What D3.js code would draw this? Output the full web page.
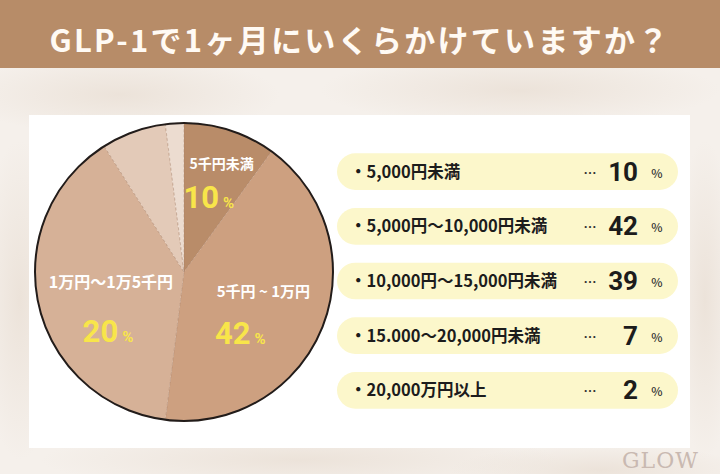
<!DOCTYPE html>
<html><head><meta charset="utf-8">
<script src="https://cdn.jsdelivr.net/npm/d3@7"></script>
<style>
html,body{margin:0;padding:0;background:#f3ede7;}
svg{display:block;}
</style></head>
<body>
<svg id="chart" width="720" height="474"></svg>
<script>
const title = "GLP-1で1ヶ月にいくらかけていますか？";
const categories = ["5,000円未満", "5,000円〜10,000円未満", "10,000円〜15,000円未満", "15.000〜20,000円未満", "20,000万円以上"];
const values = [10, 42, 39, 7, 2];
const pieNames = ["5千円未満", "5千円 ~ 1万円", "1万円〜1万5千円", "", ""];
const pieValueLabels = ["10", "42", "20", "", ""];
const colors = ["#b98c69", "#cda080", "#d6b197", "#e3cab8", "#ecdcd0"];

const svg = d3.select("#chart");
const W = 720, H = 474;
const jp = "'Noto Sans CJK JP','Noto Sans',sans-serif";
const num = "Roboto,'Noto Sans',sans-serif";

// background texture
const defs = svg.append("defs");
const g1 = defs.append("radialGradient").attr("id","blob");
g1.append("stop").attr("offset","0%").attr("stop-color","#e8ddd2").attr("stop-opacity",0.7);
g1.append("stop").attr("offset","100%").attr("stop-color","#e8ddd2").attr("stop-opacity",0);
svg.append("rect").attr("width",W).attr("height",H).attr("fill","#f5f0eb");
[[120,95,160,40],[520,90,200,35],[300,460,260,30],[20,300,40,160],[705,300,30,160],[600,470,150,25]].forEach(b=>{
  svg.append("ellipse").attr("cx",b[0]).attr("cy",b[1]).attr("rx",b[2]).attr("ry",b[3]).attr("fill","url(#blob)");
});

// title bar
svg.append("rect").attr("x",0).attr("y",0).attr("width",W).attr("height",68).attr("fill","#b78c68");
svg.append("text").attr("x",W/2).attr("y",52).attr("text-anchor","middle")
  .attr("fill","#fffaf4").attr("font-family",jp).attr("font-weight",700)
  .attr("font-size",31).attr("letter-spacing",2.3).text(title);

// card
svg.append("rect").attr("x",29).attr("y",115).attr("width",661).attr("height",333).attr("fill","#ffffff");

// pie
const cx = 184, cy = 272, r = 149;
const pie = d3.pie().sort(null).value(d=>d);
const arcs = pie(values);
const arc = d3.arc().innerRadius(0).outerRadius(r);
const pg = svg.append("g").attr("transform",`translate(${cx},${cy})`);
pg.selectAll("path.slice").data(arcs).join("path").attr("class","slice")
  .attr("d",arc).attr("fill",(d,i)=>colors[i])
  .attr("stroke","#a88169").attr("stroke-width",0.6).attr("stroke-dasharray","3,2").attr("stroke-opacity",0.7);
pg.append("circle").attr("r",r).attr("fill","none").attr("stroke","#221c1a").attr("stroke-width",2);

const labelArc = d3.arc().innerRadius(80).outerRadius(80);
// per-slice offsets from label centroid: [nameDx, nameDy, valueDx, valueDy, nameSize]
const labelOffsets = [[13,-27,0,12,14],[5,-4,-18,43,15],[5,-1,2,53,16]];
arcs.forEach((d,i)=>{
  if(!pieNames[i]) return;
  const c = labelArc.centroid(d);
  const o = labelOffsets[i];
  pg.append("text").attr("x",c[0]+o[0]).attr("y",c[1]+o[1]).attr("text-anchor","middle")
    .attr("fill","#ffffff").attr("font-family",jp).attr("font-weight",700).attr("font-size",o[4])
    .text(pieNames[i]);
  const t = pg.append("text").attr("x",c[0]+o[2]).attr("y",c[1]+o[3]).attr("text-anchor","middle")
    .attr("fill","#f8e54a").attr("font-family",num).attr("font-weight",700);
  t.append("tspan").attr("font-size",31).text(pieValueLabels[i]);
  t.append("tspan").attr("font-size",15).attr("dx",4).text("%");
});

// legend pills
const y = d3.scaleBand().domain(categories).range([143.5,418.5]).paddingInner(0.33).paddingOuter(0.18);
const lg = svg.append("g");
const rows = lg.selectAll("g.row").data(categories).join("g").attr("class","row")
  .attr("transform",d=>`translate(0,${y(d)})`);
const bh = y.bandwidth();
rows.append("rect").attr("x",337).attr("width",341).attr("height",bh).attr("rx",bh/2)
  .attr("fill","#fcf7cb");
rows.append("text").attr("x",350).attr("y",bh/2+6).attr("fill","#1c1c1c")
  .attr("font-family",jp).attr("font-weight",600).attr("font-size",16.5).text(d=>"・"+d);
rows.append("text").attr("x",590).attr("y",bh/2+6).attr("text-anchor","middle").attr("fill","#333")
  .attr("font-family",jp).attr("font-weight",700).attr("font-size",13).text("…");
rows.append("text").attr("x",638).attr("y",bh/2+9).attr("text-anchor","end").attr("fill","#1c1c1c")
  .attr("font-family",num).attr("font-weight",700).attr("font-size",26).text((d,i)=>values[i]);
rows.append("text").attr("x",657).attr("y",bh/2+6).attr("text-anchor","middle").attr("fill","#333")
  .attr("font-family",jp).attr("font-weight",500).attr("font-size",12).text("%");

// watermark
svg.append("text").attr("x",622).attr("y",468).attr("fill","#c9b9b1")
  .attr("font-family","'DejaVu Serif','Liberation Serif',serif").attr("font-size",22).attr("letter-spacing",1)
  .text("GLOW");
</script>
</body></html>
